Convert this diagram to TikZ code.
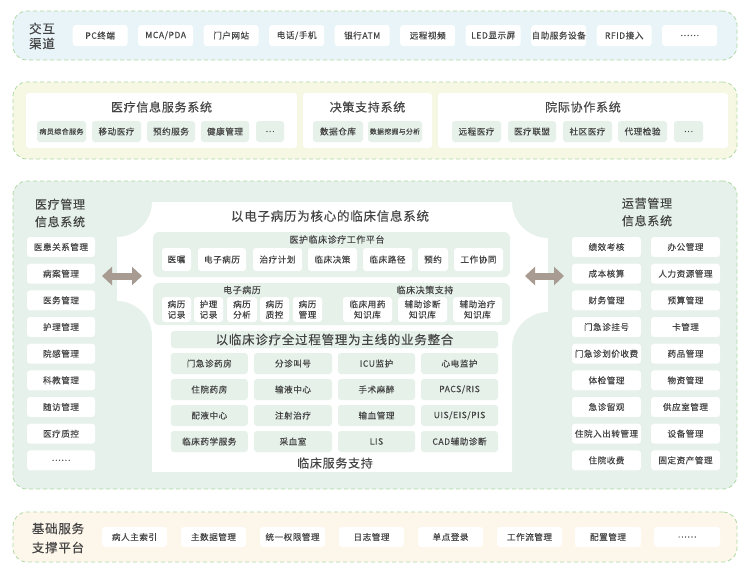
\documentclass[tikz,border=0pt]{standalone}
\usepackage{fontspec}
\setmainfont{Noto Sans CJK SC}[LetterSpace=6, FakeBold=0.2]
\usetikzlibrary{arrows.meta}
\definecolor{bordc}{HTML}{ADD8A3}
\definecolor{topc}{HTML}{E8F4F7}
\definecolor{bandtwo}{HTML}{F6F8E4}
\definecolor{bandthree}{HTML}{E5F1EA}
\definecolor{botc}{HTML}{FDF6EA}
\definecolor{itemg}{HTML}{E6F1EA}
\definecolor{txt}{HTML}{454545}
\definecolor{arrc}{HTML}{A89C92}
\newcommand\fsz[2]{\fontsize{#1}{#2}\selectfont}
\newcommand\itm[6]{\node[#1, minimum width=#5pt, minimum height=#6pt] (#2) at (#3) {#4};}
\tikzset{
  band/.style={draw=bordc, dash pattern=on 4pt off 3pt, line width=0.8pt, rounded corners=14pt, inner sep=0pt},
  wb/.style={fill=white, rounded corners=3pt, inner sep=0pt, text=txt, font=\fsz{8.6}{10.5}, align=center},
  gb/.style={fill=itemg, rounded corners=3pt, inner sep=0pt, text=txt, font=\fsz{8.6}{10.5}, align=center},
  wpanel/.style={fill=white, rounded corners=3pt, inner sep=0pt},
  gpanel/.style={fill=itemg, rounded corners=6pt, inner sep=0pt},
  ttl/.style={text=txt, inner sep=0pt, align=center},
  dbl/.style={line width=7pt, draw=arrc, {Triangle[length=10pt,width=18pt]}-{Triangle[length=10pt,width=18pt]}},
}
\begin{document}
\begin{tikzpicture}[x=1pt,y=-1pt]
\useasboundingbox (0,0) rectangle (749,579);
% ---------- Band 1
\node[band, fill=topc, minimum width=724pt, minimum height=49pt] (band1) at (375,35.5) {};
\node[ttl, font=\fsz{12.5}{15}] (l1) at (42,36) {交互\\渠道};
\itm{wb}{t1}{100.2,35.5}{PC终端}{55}{21}
\itm{wb}{t2}{165.7,35.5}{MCA/PDA}{55}{21}
\itm{wb}{t3}{231.2,35.5}{门户网站}{55}{21}
\itm{wb}{t4}{296.7,35.5}{电话/手机}{55}{21}
\itm{wb}{t5}{362.2,35.5}{银行ATM}{55}{21}
\itm{wb}{t6}{427.7,35.5}{远程视频}{55}{21}
\itm{wb}{t7}{493.2,35.5}{LED显示屏}{55}{21}
\itm{wb}{t8}{558.7,35.5}{自助服务设备}{55}{21}
\itm{wb}{t9}{624.2,35.5}{RFID接入}{55}{21}
\itm{wb}{t10}{689.7,35.5}{……}{55}{21}
% ---------- Band 2
\node[band, fill=bandtwo, minimum width=724pt, minimum height=77pt] (band2) at (375,120.5) {};
\node[wpanel, minimum width=271pt, minimum height=55pt] (p1) at (161.5,120.5) {};
\node[wpanel, minimum width=129pt, minimum height=55pt] (p2) at (367.5,120.5) {};
\node[wpanel, minimum width=290pt, minimum height=55pt] (p3) at (583,120.5) {};
\node[ttl, font=\fsz{12}{15}] (p1t) at (161.5,107) {医疗信息服务系统};
\node[ttl, font=\fsz{12}{15}] (p2t) at (367.5,107) {决策支持系统};
\node[ttl, font=\fsz{12}{15}] (p3t) at (583,107) {院际协作系统};
\itm{gb, font=\fsz{7}{9}}{a1}{61.5,131.5}{病员综合服务}{49}{21}
\itm{gb}{a2}{116.5,131.5}{移动医疗}{49}{21}
\itm{gb}{a3}{171,131.5}{预约服务}{48}{21}
\itm{gb}{a4}{225,131.5}{健康管理}{48}{21}
\itm{gb}{a5}{270,131.5}{…}{28}{21}
\itm{gb}{b1}{338,131.5}{数据仓库}{50}{21}
\itm{gb, font=\fsz{6.8}{9}}{b2}{395,131.5}{数据挖掘与分析}{54}{21}
\itm{gb}{c1}{476.5,131.5}{远程医疗}{49}{21}
\itm{gb}{c2}{532,131.5}{医疗联盟}{48}{21}
\itm{gb}{c3}{587.5,131.5}{社区医疗}{49}{21}
\itm{gb}{c4}{642.5,131.5}{代理检验}{49}{21}
\itm{gb}{c5}{688.5,131.5}{…}{29}{21}
% ---------- Band 3
\node[band, fill=bandthree, minimum width=724pt, minimum height=308pt] (band3) at (375,335) {};
% central white shape
\fill[white] (152,202) -- (512,202)
  .. controls (512,221.9) and (528.1,238) .. (548,238) -- (548,312)
  .. controls (528.1,312) and (512,328.1) .. (512,348) -- (512,472) -- (152,472) -- (152,336)
  .. controls (152,316.7) and (136.3,301) .. (117,301) -- (117,237)
  .. controls (136.3,237) and (152,221.3) .. (152,202) -- cycle;
\node[ttl, font=\fsz{12.5}{15}] (ctitle) at (330,216) {以电子病历为核心的临床信息系统};
% sub panel 1
\node[gpanel, minimum width=357pt, minimum height=45pt] (sp1) at (331.5,254.5) {};
\node[ttl, font=\fsz{9}{11}] (sp1t) at (337,239.5) {医护临床诊疗工作平台};
\itm{wb}{d1}{176.5,259.5}{医嘱}{29}{23}
\itm{wb}{d2}{222,259.5}{电子病历}{48}{23}
\itm{wb}{d3}{277.5,259.5}{治疗计划}{49}{23}
\itm{wb}{d4}{332.5,259.5}{临床决策}{49}{23}
\itm{wb}{d5}{387.5,259.5}{临床路径}{49}{23}
\itm{wb}{d6}{433,259.5}{预约}{30}{23}
\itm{wb}{d7}{478.5,259.5}{工作协同}{49}{23}
% sub panel 2
\node[gpanel, minimum width=357pt, minimum height=42pt] (sp2) at (331.5,304) {};
\node[ttl, font=\fsz{9}{11}] (sp2a) at (242,290) {电子病历};
\node[ttl, font=\fsz{9}{11}] (sp2b) at (425,290) {临床决策支持};
\itm{wb}{e1}{176.5,309.5}{病历\\记录}{29}{25}
\itm{wb}{e2}{208.5,309.5}{护理\\记录}{29}{25}
\itm{wb}{e3}{242,309.5}{病历\\分析}{30}{25}
\itm{wb}{e4}{274.5,309.5}{病历\\质控}{29}{25}
\itm{wb}{e5}{307.5,309.5}{病历\\管理}{29}{25}
\itm{wb}{e6}{367.5,309.5}{临床用药\\知识库}{49}{25}
\itm{wb}{e7}{422.5,309.5}{辅助诊断\\知识库}{49}{25}
\itm{wb}{e8}{477.5,309.5}{辅助治疗\\知识库}{49}{25}
% business integration
\node[gb, font=\fsz{12.5}{15}, minimum width=327pt, minimum height=17pt] (bt) at (334.5,339.5) {以临床诊疗全过程管理为主线的业务整合};
\itm{gb}{g11}{209.3,363.5}{门急诊药房}{77}{21}
\itm{gb}{g12}{293,363.5}{分诊叫号}{78}{21}
\itm{gb}{g13}{376.5,363.5}{ICU监护}{77}{21}
\itm{gb}{g14}{459.5,363.5}{心电监护}{77}{21}
\itm{gb}{g21}{209.3,389.5}{住院药房}{77}{21}
\itm{gb}{g22}{293,389.5}{输液中心}{78}{21}
\itm{gb}{g23}{376.5,389.5}{手术麻醉}{77}{21}
\itm{gb}{g24}{459.5,389.5}{PACS/RIS}{77}{21}
\itm{gb}{g31}{209.3,415.5}{配液中心}{77}{21}
\itm{gb}{g32}{293,415.5}{注射治疗}{78}{21}
\itm{gb}{g33}{376.5,415.5}{输血管理}{77}{21}
\itm{gb}{g34}{459.5,415.5}{UIS/EIS/PIS}{77}{21}
\itm{gb}{g41}{209.3,441.5}{临床药学服务}{77}{21}
\itm{gb}{g42}{293,441.5}{采血室}{78}{21}
\itm{gb}{g43}{376.5,441.5}{LIS}{77}{21}
\itm{gb}{g44}{459.5,441.5}{CAD辅助诊断}{77}{21}
\node[ttl, font=\fsz{12}{15}] (cst) at (335,463) {临床服务支持};
% left column
\node[ttl, font=\fsz{12}{17.5}] (lt) at (60,213) {医疗管理\\信息系统};
\itm{wb}{m1}{61,247}{医患关系管理}{68}{20}
\itm{wb}{m2}{61,273.7}{病案管理}{68}{20}
\itm{wb}{m3}{61,300.3}{医务管理}{68}{20}
\itm{wb}{m4}{61,327}{护理管理}{68}{20}
\itm{wb}{m5}{61,353.7}{院感管理}{68}{20}
\itm{wb}{m6}{61,380.3}{科教管理}{68}{20}
\itm{wb}{m7}{61,407}{随访管理}{68}{20}
\itm{wb}{m8}{61,433.7}{医疗质控}{68}{20}
\itm{wb}{m9}{61,460.3}{……}{68}{20}
% right column
\node[ttl, font=\fsz{12}{17.5}] (rt) at (647,212) {运营管理\\信息系统};
\itm{wb}{r11}{606.5,247}{绩效考核}{69}{20}
\itm{wb}{r12}{685.5,247}{办公管理}{69}{20}
\itm{wb}{r21}{606.5,273.7}{成本核算}{69}{20}
\itm{wb}{r22}{685.5,273.7}{人力资源管理}{69}{20}
\itm{wb}{r31}{606.5,300.3}{财务管理}{69}{20}
\itm{wb}{r32}{685.5,300.3}{预算管理}{69}{20}
\itm{wb}{r41}{606.5,327}{门急诊挂号}{69}{20}
\itm{wb}{r42}{685.5,327}{卡管理}{69}{20}
\itm{wb}{r51}{606.5,353.7}{门急诊划价收费}{69}{20}
\itm{wb}{r52}{685.5,353.7}{药品管理}{69}{20}
\itm{wb}{r61}{606.5,380.3}{体检管理}{69}{20}
\itm{wb}{r62}{685.5,380.3}{物资管理}{69}{20}
\itm{wb}{r71}{606.5,407}{急诊留观}{69}{20}
\itm{wb}{r72}{685.5,407}{供应室管理}{69}{20}
\itm{wb}{r81}{606.5,433.7}{住院入出转管理}{69}{20}
\itm{wb}{r82}{685.5,433.7}{设备管理}{69}{20}
\itm{wb}{r91}{606.5,460.3}{住院收费}{69}{20}
\itm{wb}{r92}{685.5,460.3}{固定资产管理}{69}{20}
% arrows
\coordinate (la) at (102,276);
\coordinate (lb) at (142,276);
\coordinate (ra) at (525,276);
\coordinate (rb) at (564,276);
\draw[dbl] (la) -- (lb);
\draw[dbl] (ra) -- (rb);
% ---------- Band 4
\node[band, fill=botc, minimum width=724pt, minimum height=50pt] (band4) at (375,537) {};
\node[ttl, font=\fsz{12.5}{19}] (l4) at (58,538) {基础服务\\支撑平台};
\itm{wb}{f1}{134.5,537}{病人主索引}{65}{20}
\itm{wb}{f2}{213.5,537}{主数据管理}{65}{20}
\itm{wb}{f3}{292.5,537}{统一权限管理}{65}{20}
\itm{wb}{f4}{371.5,537}{日志管理}{65}{20}
\itm{wb}{f5}{450.5,537}{单点登录}{65}{20}
\itm{wb}{f6}{529.5,537}{工作流管理}{65}{20}
\itm{wb}{f7}{608,537}{配置管理}{66}{20}
\itm{wb}{f8}{687,537}{……}{66}{20}
\end{tikzpicture}
\end{document}
